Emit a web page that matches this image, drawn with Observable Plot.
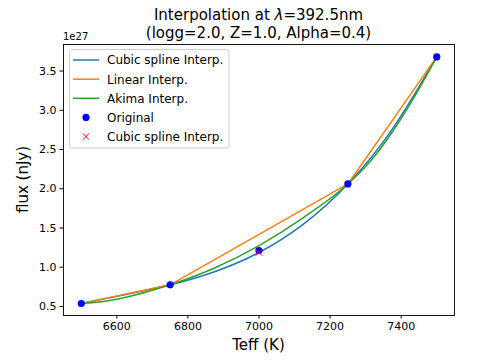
<!DOCTYPE html>
<html><head><meta charset="utf-8">
<script src="https://cdn.jsdelivr.net/npm/d3@7"></script>
<script src="https://cdn.jsdelivr.net/npm/@observablehq/plot@0.6"></script>
<style>body{margin:0;background:#fff}#chart svg{font-family:"DejaVu Sans",sans-serif;overflow:visible}</style>
</head><body><div id="chart"></div>
<script>
// Original grid points
const teffOrig = [6500, 6750, 7000, 7250, 7500];
const fluxOrig = [0.538, 0.776, 1.212, 2.061, 3.680];
// Knots used for interpolation (7000 K left out)
const teffKnots = [6500, 6750, 7250, 7500];
const fluxKnots = [0.538, 0.776, 2.061, 3.680];
// Interpolated point at 7000 K
const teffTest = [7000];
const fluxTest = [1.188];
// Curves
const teffCubic = [6500, 6625, 6750, 6875, 7000, 7125, 7250, 7375, 7500];
const fluxCubic = [0.538, 0.653, 0.776, 0.943, 1.188, 1.549, 2.061, 2.759, 3.680];
const teffAkima = [6500, 6562.5, 6625, 6687.5, 6750, 6875, 7000, 7125, 7250, 7312.5, 7375, 7437.5, 7500];
const fluxAkima = [0.538, 0.563, 0.617, 0.691, 0.776, 0.990, 1.276, 1.633, 2.061, 2.346, 2.723, 3.174, 3.680];
const xTicks = [6600, 6800, 7000, 7200, 7400];
const yTicks = [0.5, 1.0, 1.5, 2.0, 2.5, 3.0, 3.5];
const legendLabels = ["Cubic spline Interp.", "Linear Interp.", "Akima Interp.", "Original", "Cubic spline Interp."];
const colors = {cubic: "#1f77b4", linear: "#ff7f0e", akima: "#2ca02c", orig: "#0000ff", test: "#ff0000"};

const W = 504, H = 360, mL = 63, mR = 50, mT = 44, mB = 45;
const idx = a => d3.range(a.length);

const plot = Plot.plot({
  width: W, height: H,
  marginLeft: mL, marginRight: mR, marginTop: mT, marginBottom: mB,
  style: {fontFamily: "DejaVu Sans", fontSize: "11px", color: "black", background: "white"},
  x: {domain: [6450, 7550], label: null},
  y: {domain: [0.385, 3.838], label: null},
  marks: [
    Plot.line(idx(teffCubic), {x: teffCubic, y: fluxCubic, stroke: colors.cubic, strokeWidth: 1.5, curve: "natural"}),
    Plot.line(idx(teffKnots), {x: teffKnots, y: fluxKnots, stroke: colors.linear, strokeWidth: 1.5}),
    Plot.line(idx(teffAkima), {x: teffAkima, y: fluxAkima, stroke: colors.akima, strokeWidth: 1.5, curve: "monotone-x"}),
    Plot.dot(idx(teffOrig), {x: teffOrig, y: fluxOrig, fill: colors.orig, r: 3.6}),
    Plot.dot(idx(teffTest), {x: teffTest, y: fluxTest, symbol: "times", stroke: colors.test, strokeWidth: 1, r: 3.1}),
    Plot.axisX({ticks: xTicks, tickSize: 3.5, tickPadding: 3.5, tickFormat: d3.format("d"), label: null, fontSize: 11}),
    Plot.axisY({ticks: yTicks, tickSize: 3.5, tickPadding: 3.5, tickFormat: d3.format(".1f"), label: null, fontSize: 11}),
    Plot.frame({stroke: "black", strokeWidth: 0.9})
  ]
});
document.getElementById("chart").append(plot);

const svg = d3.select(plot);
const addText = (x, y, size, anchor) => svg.append("text").attr("x", x).attr("y", y)
  .attr("text-anchor", anchor).attr("font-size", size).attr("fill", "black");
// Title
const t1 = addText((mL + W - mR) / 2, 19.5, 15, "middle");
t1.append("tspan").text("Interpolation at ");
t1.append("tspan").attr("font-style", "italic").text("λ");
t1.append("tspan").text("=392.5nm");
addText((mL + W - mR) / 2, 38, 15, "middle").text("(logg=2.0, Z=1.0, Alpha=0.4)");
// Offset label
addText(mL, 39.5, 10, "start").text("1e27");
// Axis labels
addText((mL + W - mR) / 2, 350, 15, "middle").text("Teff (K)");
svg.append("text").attr("transform", `translate(28,${(mT + H - mB) / 2}) rotate(-90)`)
  .attr("text-anchor", "middle").attr("font-size", 15).attr("fill", "black").text("flux (nJy)");

// Legend
const lg = svg.append("g");
lg.append("rect").attr("x", 69.5).attr("y", 49.5).attr("width", 159.5).attr("height", 98.5)
  .attr("rx", 3).attr("fill", "white").attr("fill-opacity", 0.8).attr("stroke", "#cccccc").attr("stroke-width", 1);
const rowY = [60, 79.2, 98.3, 117.4, 136.6];
const kinds = ["cubic", "linear", "akima", "orig", "test"];
kinds.forEach((k, i) => {
  const y = rowY[i];
  if (i < 3) {
    lg.append("line").attr("x1", 73).attr("x2", 99).attr("y1", y).attr("y2", y)
      .attr("stroke", colors[k]).attr("stroke-width", 1.5);
  } else if (k === "orig") {
    lg.append("circle").attr("cx", 86).attr("cy", y).attr("r", 3.6).attr("fill", colors.orig);
  } else {
    lg.append("path").attr("d", `M82.8,${y - 3.2}L89.2,${y + 3.2}M82.8,${y + 3.2}L89.2,${y - 3.2}`)
      .attr("stroke", colors.test).attr("stroke-width", 1);
  }
  lg.append("text").attr("x", 107).attr("y", y + 4.3).attr("text-anchor", "start")
    .attr("font-size", 12).attr("fill", "black").text(legendLabels[i]);
});
</script>
</body></html>
